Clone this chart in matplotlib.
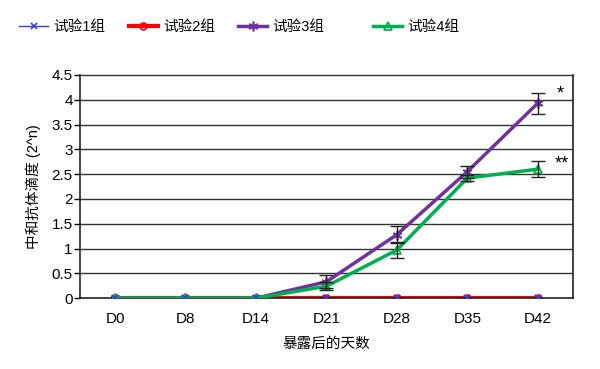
import numpy as np
import matplotlib
matplotlib.use("Agg")
import matplotlib.pyplot as plt

plt.rcParams['font.family'] = ['Liberation Sans', 'Noto Sans CJK SC', 'DejaVu Sans']

days = ["D0", "D8", "D14", "D21", "D28", "D35", "D42"]
g1 = [0, 0, 0, 0, 0, 0, 0]
g2 = [0, 0, 0, 0, 0, 0, 0]
g3 = [0, 0, 0, 0.33, 1.28, 2.55, 3.93]
g3_err = [0, 0, 0, 0.13, 0.17, 0.12, 0.21]
g4 = [0, 0, 0, 0.24, 0.97, 2.42, 2.6]
g4_err = [0, 0, 0, 0.08, 0.16, 0.06, 0.16]
names = ["试验1组", "试验2组", "试验3组", "试验4组"]

x = np.arange(len(days))

fig = plt.figure(figsize=(6, 3.69), dpi=100)
ax = fig.add_axes([0.133, 0.192, 0.822, 0.605])

for y in np.arange(0.5, 4.5, 0.5):
    ax.axhline(y, color="#333333", lw=1.0, zorder=0)

l1, = ax.plot(x, g1, color="#3a3ae0", lw=1.0, marker="x", ms=5, mew=1.2, label=names[0], zorder=2)
l2, = ax.plot(x, g2, color="#ff0000", lw=3, marker="o", ms=5, mfc="none", mew=1.2, label=names[1], zorder=1)
l3, = ax.plot(x, g3, color="#7030a0", lw=2.5, marker=(6, 2, 0), ms=7, mew=1.2, label=names[2], zorder=3)
l4, = ax.plot(x, g4, color="#00b050", lw=2.5, marker="^", ms=6, mfc="none", mew=1.2, label=names[3], zorder=4)

ax.errorbar(x[3:], g3[3:], yerr=g3_err[3:], fmt="none", ecolor="#222222", elinewidth=1.0, capsize=5, zorder=5)
ax.errorbar(x[3:], g4[3:], yerr=g4_err[3:], fmt="none", ecolor="#222222", elinewidth=1.0, capsize=5, zorder=5)
# blue markers show on top of red line
ax.plot(x, g1, color="none", marker="x", ms=5, mew=1.2, mec="#3a3ae0", zorder=6)

ax.text(6.32, 4.12, "*", fontsize=13, ha="center", va="center")
ax.text(6.34, 2.7, "**", fontsize=13, ha="center", va="center")

ax.set_xlim(-0.5, 6.5)
ax.set_ylim(0, 4.5)
ax.set_xticks(x)
ax.set_xticklabels(days, fontsize=11)
ax.set_yticks(np.arange(0, 4.6, 0.5))
ax.set_yticklabels(["0", "0.5", "1", "1.5", "2", "2.5", "3", "3.5", "4", "4.5"], fontsize=11)
ax.tick_params(axis="x", length=0, pad=10)
ax.tick_params(axis="y", length=4, width=1.0, pad=1)
for s in ax.spines.values():
    s.set_color("#222222")
    s.set_linewidth(1.2)
ax.spines["top"].set_linewidth(1.0)
ax.spines["top"].set_color("#333333")

ax.set_ylabel("中和抗体滴度 (2^n)", fontsize=10.5, labelpad=8)
ax.set_xlabel("暴露后的天数", fontsize=10.5, labelpad=8)

leg_kw = dict(frameon=False, fontsize=10.5, handlelength=2.0, handletextpad=0.35, borderaxespad=0)
fig.legend(handles=[l1, l2, l3], labels=names[:3], loc="center left", bbox_to_anchor=(0.022, 0.927),
           ncol=3, columnspacing=1.6, **leg_kw)
fig.legend(handles=[l4], labels=names[3:], loc="center left", bbox_to_anchor=(0.612, 0.927), **leg_kw)

fig.savefig("out.png", dpi=100)
